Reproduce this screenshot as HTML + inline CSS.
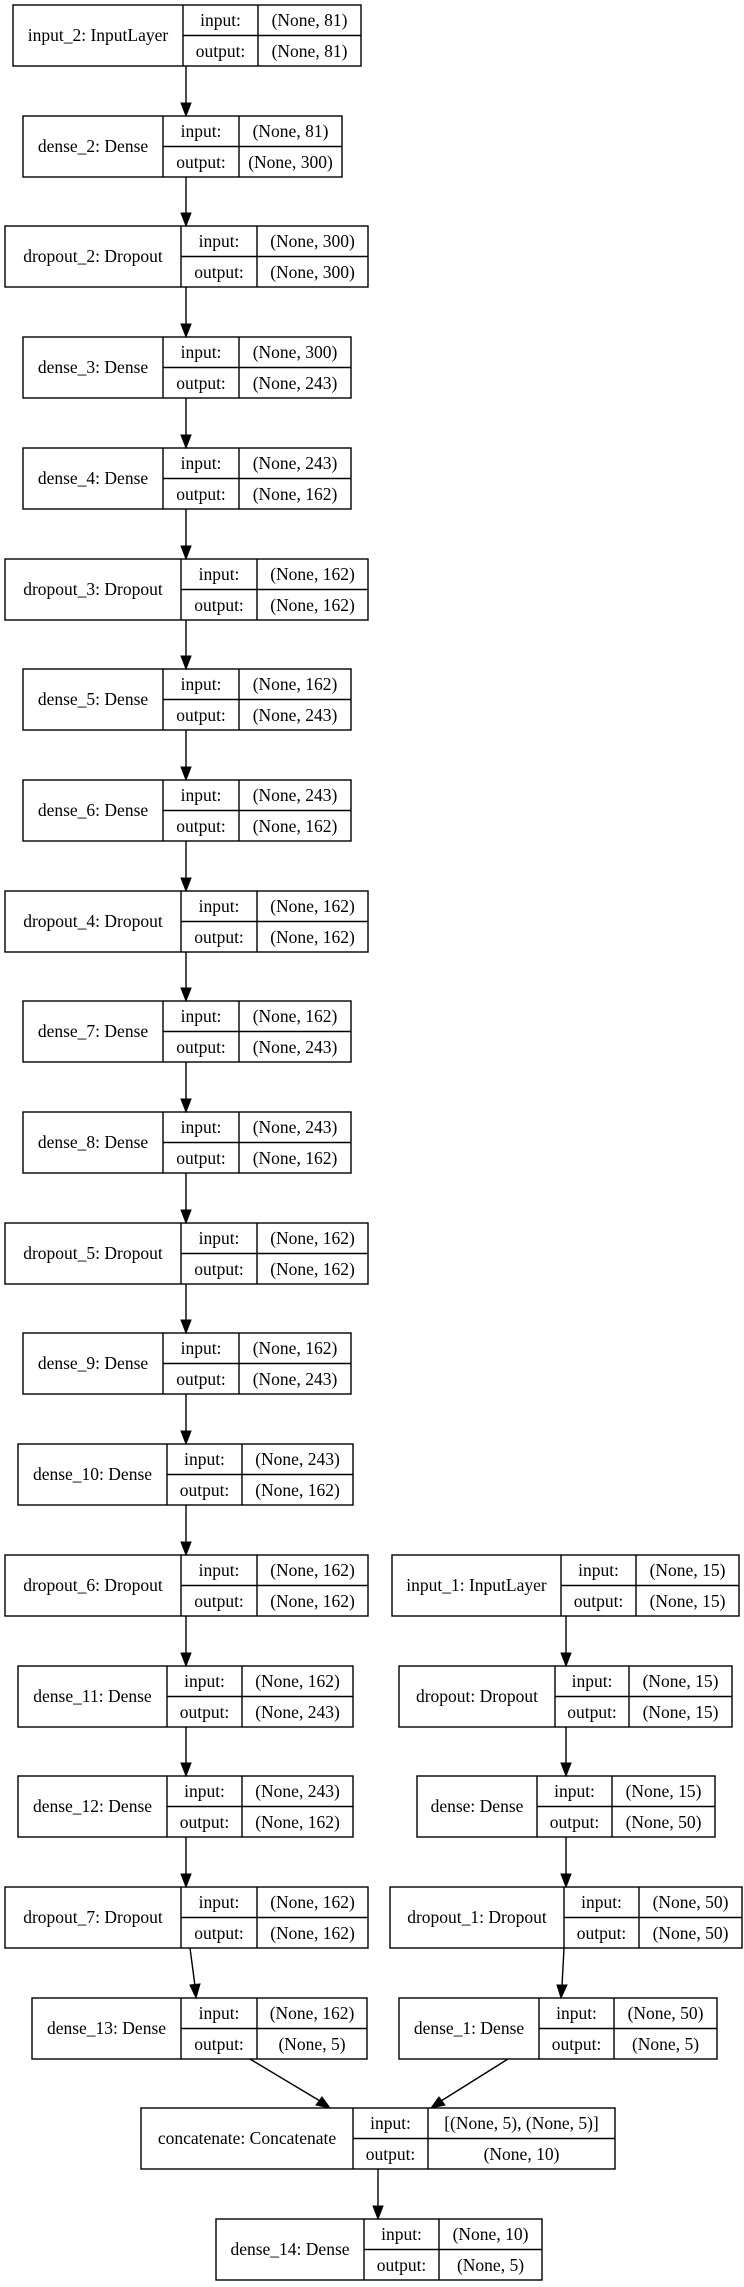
<!DOCTYPE html>
<html><head><meta charset="utf-8"><style>
html,body{margin:0;padding:0;background:#fff;}
svg{display:block;}
text{font-family:"Liberation Serif",serif;font-size:17.5px;fill:#000;text-anchor:middle;}
rect,line.b{fill:none;stroke:#000;stroke-width:1.4;}
line.a{stroke:#000;stroke-width:1.4;}
polygon{fill:#000;stroke:#000;}
</style></head><body>
<svg width="744" height="2287" viewBox="0 0 744 2287" xmlns="http://www.w3.org/2000/svg">
<!-- nodes -->
<g transform="translate(0,5)"><rect x="13" y="0" width="348" height="61"/><line class="b" x1="183" y1="0" x2="183" y2="61"/><line class="b" x1="258" y1="0" x2="258" y2="61"/><line class="b" x1="183" y1="30.5" x2="361" y2="30.5"/><text x="98" y="36">input_2: InputLayer</text><text x="220.5" y="21">input:</text><text x="220.5" y="52">output:</text><text x="309.5" y="21">(None, 81)</text><text x="309.5" y="52">(None, 81)</text></g>
<g transform="translate(0,116)"><rect x="23" y="0" width="319" height="61"/><line class="b" x1="163" y1="0" x2="163" y2="61"/><line class="b" x1="239" y1="0" x2="239" y2="61"/><line class="b" x1="163" y1="30.5" x2="342" y2="30.5"/><text x="93" y="36">dense_2: Dense</text><text x="201" y="21">input:</text><text x="201" y="52">output:</text><text x="290.5" y="21">(None, 81)</text><text x="290.5" y="52">(None, 300)</text></g>
<g transform="translate(0,226)"><rect x="5" y="0" width="363" height="61"/><line class="b" x1="181" y1="0" x2="181" y2="61"/><line class="b" x1="257" y1="0" x2="257" y2="61"/><line class="b" x1="181" y1="30.5" x2="368" y2="30.5"/><text x="93" y="36">dropout_2: Dropout</text><text x="219" y="21">input:</text><text x="219" y="52">output:</text><text x="312.5" y="21">(None, 300)</text><text x="312.5" y="52">(None, 300)</text></g>
<g transform="translate(0,337)"><rect x="23" y="0" width="328" height="61"/><line class="b" x1="163" y1="0" x2="163" y2="61"/><line class="b" x1="239" y1="0" x2="239" y2="61"/><line class="b" x1="163" y1="30.5" x2="351" y2="30.5"/><text x="93" y="36">dense_3: Dense</text><text x="201" y="21">input:</text><text x="201" y="52">output:</text><text x="295" y="21">(None, 300)</text><text x="295" y="52">(None, 243)</text></g>
<g transform="translate(0,448)"><rect x="23" y="0" width="328" height="61"/><line class="b" x1="163" y1="0" x2="163" y2="61"/><line class="b" x1="239" y1="0" x2="239" y2="61"/><line class="b" x1="163" y1="30.5" x2="351" y2="30.5"/><text x="93" y="36">dense_4: Dense</text><text x="201" y="21">input:</text><text x="201" y="52">output:</text><text x="295" y="21">(None, 243)</text><text x="295" y="52">(None, 162)</text></g>
<g transform="translate(0,559)"><rect x="5" y="0" width="363" height="61"/><line class="b" x1="181" y1="0" x2="181" y2="61"/><line class="b" x1="257" y1="0" x2="257" y2="61"/><line class="b" x1="181" y1="30.5" x2="368" y2="30.5"/><text x="93" y="36">dropout_3: Dropout</text><text x="219" y="21">input:</text><text x="219" y="52">output:</text><text x="312.5" y="21">(None, 162)</text><text x="312.5" y="52">(None, 162)</text></g>
<g transform="translate(0,669)"><rect x="23" y="0" width="328" height="61"/><line class="b" x1="163" y1="0" x2="163" y2="61"/><line class="b" x1="239" y1="0" x2="239" y2="61"/><line class="b" x1="163" y1="30.5" x2="351" y2="30.5"/><text x="93" y="36">dense_5: Dense</text><text x="201" y="21">input:</text><text x="201" y="52">output:</text><text x="295" y="21">(None, 162)</text><text x="295" y="52">(None, 243)</text></g>
<g transform="translate(0,780)"><rect x="23" y="0" width="328" height="61"/><line class="b" x1="163" y1="0" x2="163" y2="61"/><line class="b" x1="239" y1="0" x2="239" y2="61"/><line class="b" x1="163" y1="30.5" x2="351" y2="30.5"/><text x="93" y="36">dense_6: Dense</text><text x="201" y="21">input:</text><text x="201" y="52">output:</text><text x="295" y="21">(None, 243)</text><text x="295" y="52">(None, 162)</text></g>
<g transform="translate(0,891)"><rect x="5" y="0" width="363" height="61"/><line class="b" x1="181" y1="0" x2="181" y2="61"/><line class="b" x1="257" y1="0" x2="257" y2="61"/><line class="b" x1="181" y1="30.5" x2="368" y2="30.5"/><text x="93" y="36">dropout_4: Dropout</text><text x="219" y="21">input:</text><text x="219" y="52">output:</text><text x="312.5" y="21">(None, 162)</text><text x="312.5" y="52">(None, 162)</text></g>
<g transform="translate(0,1001)"><rect x="23" y="0" width="328" height="61"/><line class="b" x1="163" y1="0" x2="163" y2="61"/><line class="b" x1="239" y1="0" x2="239" y2="61"/><line class="b" x1="163" y1="30.5" x2="351" y2="30.5"/><text x="93" y="36">dense_7: Dense</text><text x="201" y="21">input:</text><text x="201" y="52">output:</text><text x="295" y="21">(None, 162)</text><text x="295" y="52">(None, 243)</text></g>
<g transform="translate(0,1112)"><rect x="23" y="0" width="328" height="61"/><line class="b" x1="163" y1="0" x2="163" y2="61"/><line class="b" x1="239" y1="0" x2="239" y2="61"/><line class="b" x1="163" y1="30.5" x2="351" y2="30.5"/><text x="93" y="36">dense_8: Dense</text><text x="201" y="21">input:</text><text x="201" y="52">output:</text><text x="295" y="21">(None, 243)</text><text x="295" y="52">(None, 162)</text></g>
<g transform="translate(0,1223)"><rect x="5" y="0" width="363" height="61"/><line class="b" x1="181" y1="0" x2="181" y2="61"/><line class="b" x1="257" y1="0" x2="257" y2="61"/><line class="b" x1="181" y1="30.5" x2="368" y2="30.5"/><text x="93" y="36">dropout_5: Dropout</text><text x="219" y="21">input:</text><text x="219" y="52">output:</text><text x="312.5" y="21">(None, 162)</text><text x="312.5" y="52">(None, 162)</text></g>
<g transform="translate(0,1333)"><rect x="23" y="0" width="328" height="61"/><line class="b" x1="163" y1="0" x2="163" y2="61"/><line class="b" x1="239" y1="0" x2="239" y2="61"/><line class="b" x1="163" y1="30.5" x2="351" y2="30.5"/><text x="93" y="36">dense_9: Dense</text><text x="201" y="21">input:</text><text x="201" y="52">output:</text><text x="295" y="21">(None, 162)</text><text x="295" y="52">(None, 243)</text></g>
<g transform="translate(0,1444)"><rect x="18" y="0" width="335" height="61"/><line class="b" x1="167" y1="0" x2="167" y2="61"/><line class="b" x1="242" y1="0" x2="242" y2="61"/><line class="b" x1="167" y1="30.5" x2="353" y2="30.5"/><text x="92.5" y="36">dense_10: Dense</text><text x="204.5" y="21">input:</text><text x="204.5" y="52">output:</text><text x="297.5" y="21">(None, 243)</text><text x="297.5" y="52">(None, 162)</text></g>
<g transform="translate(0,1555)"><rect x="5" y="0" width="363" height="61"/><line class="b" x1="181" y1="0" x2="181" y2="61"/><line class="b" x1="257" y1="0" x2="257" y2="61"/><line class="b" x1="181" y1="30.5" x2="368" y2="30.5"/><text x="93" y="36">dropout_6: Dropout</text><text x="219" y="21">input:</text><text x="219" y="52">output:</text><text x="312.5" y="21">(None, 162)</text><text x="312.5" y="52">(None, 162)</text></g>
<g transform="translate(0,1666)"><rect x="18" y="0" width="335" height="61"/><line class="b" x1="167" y1="0" x2="167" y2="61"/><line class="b" x1="242" y1="0" x2="242" y2="61"/><line class="b" x1="167" y1="30.5" x2="353" y2="30.5"/><text x="92.5" y="36">dense_11: Dense</text><text x="204.5" y="21">input:</text><text x="204.5" y="52">output:</text><text x="297.5" y="21">(None, 162)</text><text x="297.5" y="52">(None, 243)</text></g>
<g transform="translate(0,1776)"><rect x="18" y="0" width="335" height="61"/><line class="b" x1="167" y1="0" x2="167" y2="61"/><line class="b" x1="242" y1="0" x2="242" y2="61"/><line class="b" x1="167" y1="30.5" x2="353" y2="30.5"/><text x="92.5" y="36">dense_12: Dense</text><text x="204.5" y="21">input:</text><text x="204.5" y="52">output:</text><text x="297.5" y="21">(None, 243)</text><text x="297.5" y="52">(None, 162)</text></g>
<g transform="translate(0,1887)"><rect x="5" y="0" width="363" height="61"/><line class="b" x1="181" y1="0" x2="181" y2="61"/><line class="b" x1="257" y1="0" x2="257" y2="61"/><line class="b" x1="181" y1="30.5" x2="368" y2="30.5"/><text x="93" y="36">dropout_7: Dropout</text><text x="219" y="21">input:</text><text x="219" y="52">output:</text><text x="312.5" y="21">(None, 162)</text><text x="312.5" y="52">(None, 162)</text></g>
<g transform="translate(0,1998)"><rect x="32" y="0" width="335" height="61"/><line class="b" x1="181" y1="0" x2="181" y2="61"/><line class="b" x1="257" y1="0" x2="257" y2="61"/><line class="b" x1="181" y1="30.5" x2="367" y2="30.5"/><text x="106.5" y="36">dense_13: Dense</text><text x="219" y="21">input:</text><text x="219" y="52">output:</text><text x="312" y="21">(None, 162)</text><text x="312" y="52">(None, 5)</text></g>
<!-- right column -->
<g transform="translate(0,1555)"><rect x="392" y="0" width="347" height="61"/><line class="b" x1="561" y1="0" x2="561" y2="61"/><line class="b" x1="636" y1="0" x2="636" y2="61"/><line class="b" x1="561" y1="30.5" x2="739" y2="30.5"/><text x="476.5" y="36">input_1: InputLayer</text><text x="598.5" y="21">input:</text><text x="598.5" y="52">output:</text><text x="687.5" y="21">(None, 15)</text><text x="687.5" y="52">(None, 15)</text></g>
<g transform="translate(0,1666)"><rect x="399" y="0" width="333" height="61"/><line class="b" x1="555" y1="0" x2="555" y2="61"/><line class="b" x1="629" y1="0" x2="629" y2="61"/><line class="b" x1="555" y1="30.5" x2="732" y2="30.5"/><text x="477" y="36">dropout: Dropout</text><text x="592" y="21">input:</text><text x="592" y="52">output:</text><text x="680.5" y="21">(None, 15)</text><text x="680.5" y="52">(None, 15)</text></g>
<g transform="translate(0,1776)"><rect x="417" y="0" width="298" height="61"/><line class="b" x1="537" y1="0" x2="537" y2="61"/><line class="b" x1="612" y1="0" x2="612" y2="61"/><line class="b" x1="537" y1="30.5" x2="715" y2="30.5"/><text x="477" y="36">dense: Dense</text><text x="574.5" y="21">input:</text><text x="574.5" y="52">output:</text><text x="663.5" y="21">(None, 15)</text><text x="663.5" y="52">(None, 50)</text></g>
<g transform="translate(0,1887)"><rect x="390" y="0" width="352" height="61"/><line class="b" x1="564" y1="0" x2="564" y2="61"/><line class="b" x1="639" y1="0" x2="639" y2="61"/><line class="b" x1="564" y1="30.5" x2="742" y2="30.5"/><text x="477" y="36">dropout_1: Dropout</text><text x="601.5" y="21">input:</text><text x="601.5" y="52">output:</text><text x="690.5" y="21">(None, 50)</text><text x="690.5" y="52">(None, 50)</text></g>
<g transform="translate(0,1998)"><rect x="399" y="0" width="318" height="61"/><line class="b" x1="539" y1="0" x2="539" y2="61"/><line class="b" x1="614" y1="0" x2="614" y2="61"/><line class="b" x1="539" y1="30.5" x2="717" y2="30.5"/><text x="469" y="36">dense_1: Dense</text><text x="576.5" y="21">input:</text><text x="576.5" y="52">output:</text><text x="665.5" y="21">(None, 50)</text><text x="665.5" y="52">(None, 5)</text></g>
<g transform="translate(0,2108)"><rect x="141" y="0" width="474" height="61"/><line class="b" x1="353" y1="0" x2="353" y2="61"/><line class="b" x1="428" y1="0" x2="428" y2="61"/><line class="b" x1="353" y1="30.5" x2="615" y2="30.5"/><text x="247" y="36">concatenate: Concatenate</text><text x="390.5" y="21">input:</text><text x="390.5" y="52">output:</text><text x="521.5" y="21">[(None, 5), (None, 5)]</text><text x="521.5" y="52">(None, 10)</text></g>
<g transform="translate(0,2219)"><rect x="216" y="0" width="326" height="61"/><line class="b" x1="364" y1="0" x2="364" y2="61"/><line class="b" x1="439" y1="0" x2="439" y2="61"/><line class="b" x1="364" y1="30.5" x2="542" y2="30.5"/><text x="290" y="36">dense_14: Dense</text><text x="401.5" y="21">input:</text><text x="401.5" y="52">output:</text><text x="490.5" y="21">(None, 10)</text><text x="490.5" y="52">(None, 5)</text></g>
<!-- vertical arrows left -->
<g>
<line class="a" x1="186" y1="66" x2="186" y2="104"/><polygon points="181,103 191,103 186,116"/>
<line class="a" x1="186" y1="177" x2="186" y2="214"/><polygon points="181,213 191,213 186,226"/>
<line class="a" x1="186" y1="287" x2="186" y2="325"/><polygon points="181,324 191,324 186,337"/>
<line class="a" x1="186" y1="398" x2="186" y2="436"/><polygon points="181,435 191,435 186,448"/>
<line class="a" x1="186" y1="509" x2="186" y2="547"/><polygon points="181,546 191,546 186,559"/>
<line class="a" x1="186" y1="620" x2="186" y2="657"/><polygon points="181,656 191,656 186,669"/>
<line class="a" x1="186" y1="730" x2="186" y2="768"/><polygon points="181,767 191,767 186,780"/>
<line class="a" x1="186" y1="841" x2="186" y2="879"/><polygon points="181,878 191,878 186,891"/>
<line class="a" x1="186" y1="952" x2="186" y2="989"/><polygon points="181,988 191,988 186,1001"/>
<line class="a" x1="186" y1="1062" x2="186" y2="1100"/><polygon points="181,1099 191,1099 186,1112"/>
<line class="a" x1="186" y1="1173" x2="186" y2="1211"/><polygon points="181,1210 191,1210 186,1223"/>
<line class="a" x1="186" y1="1284" x2="186" y2="1321"/><polygon points="181,1320 191,1320 186,1333"/>
<line class="a" x1="186" y1="1394" x2="186" y2="1432"/><polygon points="181,1431 191,1431 186,1444"/>
<line class="a" x1="186" y1="1505" x2="186" y2="1543"/><polygon points="181,1542 191,1542 186,1555"/>
<line class="a" x1="186" y1="1616" x2="186" y2="1654"/><polygon points="181,1653 191,1653 186,1666"/>
<line class="a" x1="186" y1="1727" x2="186" y2="1764"/><polygon points="181,1763 191,1763 186,1776"/>
<line class="a" x1="186" y1="1837" x2="186" y2="1875"/><polygon points="181,1874 191,1874 186,1887"/>
<line class="a" x1="190" y1="1948" x2="195" y2="1986"/><polygon points="190,1985 200,1984 196,1998"/>
<!-- right -->
<line class="a" x1="566" y1="1616" x2="566" y2="1654"/><polygon points="561,1653 571,1653 566,1666"/>
<line class="a" x1="566" y1="1727" x2="566" y2="1764"/><polygon points="561,1763 571,1763 566,1776"/>
<line class="a" x1="566" y1="1837" x2="566" y2="1875"/><polygon points="561,1874 571,1874 566,1887"/>
<line class="a" x1="564" y1="1948" x2="562" y2="1986"/><polygon points="557,1985 567,1985 561,1998"/>
<!-- to concat -->
<line class="a" x1="250" y1="2059" x2="320" y2="2101"/><polygon points="316,2105 322,2097 330,2108"/>
<line class="a" x1="508" y1="2059" x2="441" y2="2101"/><polygon points="439,2097 445,2105 431,2108"/>
<line class="a" x1="378" y1="2169" x2="378" y2="2207"/><polygon points="373,2206 383,2206 378,2219"/>
</g>
</svg>
</body></html>
